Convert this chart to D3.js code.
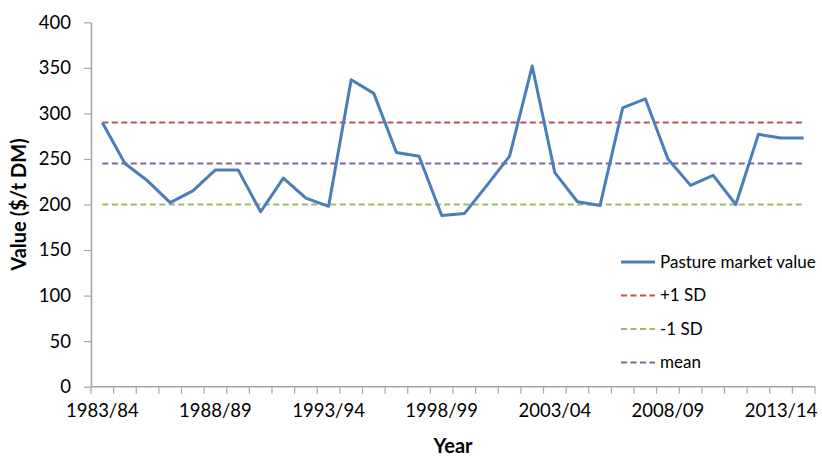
<!DOCTYPE html>
<html>
<head>
<meta charset="utf-8">
<script src="https://cdn.jsdelivr.net/npm/d3@7"></script>
<style>
  body { margin: 0; background: #fff; }
  svg text { font-family: Lato, "Open Sans", sans-serif; fill: #000; }
</style>
</head>
<body>
<div id="wrapper"></div>
<script>
// categories (crop years)
const years = [
  "1983/84", "1984/85", "1985/86", "1986/87", "1987/88", "1988/89", "1989/90", "1990/91",
  "1991/92", "1992/93", "1993/94", "1994/95", "1995/96", "1996/97", "1997/98", "1998/99",
  "1999/00", "2000/01", "2001/02", "2002/03", "2003/04", "2004/05", "2005/06", "2006/07",
  "2007/08", "2008/09", "2009/10", "2010/11", "2011/12", "2012/13", "2013/14", "2014/15"
]
// pasture market value ($/t DM)
const pastureValue = [
  290, 245, 226, 202, 215, 238, 238, 192,
  229, 207, 198, 337, 322, 257, 253, 188,
  190, 221, 253, 352, 235, 203, 199, 306,
  316, 250, 221, 232, 200, 277, 273, 273
]
const plusSD = 290
const minusSD = 200
const meanValue = 245

const yTicks = [0, 50, 100, 150, 200, 250, 300, 350, 400]
const xLabelYears = ["1983/84", "1988/89", "1993/94", "1998/99", "2003/04", "2008/09", "2013/14"]

const seriesNames = ["Pasture market value", "+1 SD", "-1 SD", "mean"]
const seriesColors = ["#4A7EBB", "#C0504D", "#9BBB59", "#8064A2"]

//1_Dimensions
const width = 822
const height = 457
const plot = { left: 91, right: 815, top: 22.3, bottom: 386.7 }

//2_Canvas
const svg = d3.select("#wrapper")
  .append("svg")
  .attr("width", width)
  .attr("height", height)

//3_Scales
const xScale = d3.scaleBand()
  .domain(years)
  .range([plot.left, plot.right])
  .padding(0)
const xCenter = d => xScale(d) + xScale.bandwidth() / 2

const yScale = d3.scaleLinear()
  .domain([0, 400])
  .range([plot.bottom, plot.top])

//4_Axes
const axisColor = "#A6A6A6"

const yAxis = svg.append("g")
  .attr("transform", `translate(${plot.left},0)`)
  .call(d3.axisLeft(yScale).tickValues(yTicks).tickSize(7).tickSizeOuter(0).tickPadding(13))
yAxis.select(".domain").attr("stroke", axisColor).attr("stroke-width", 1.6)
yAxis.selectAll(".tick line").attr("stroke", axisColor).attr("stroke-width", 1.2)
yAxis.selectAll(".tick text")
  .style("font-size", "18.5px")
  .attr("fill", "#000")

const xAxis = svg.append("g")
  .attr("transform", `translate(0,${plot.bottom})`)
xAxis.append("line")
  .attr("x1", plot.left).attr("x2", plot.right)
  .attr("stroke", axisColor).attr("stroke-width", 1.6)
// tick marks between categories
xAxis.selectAll(".xtick")
  .data(years.concat(["end"]))
  .join("line")
  .attr("class", "xtick")
  .attr("x1", (d, i) => i < years.length ? xScale(d) : plot.right)
  .attr("x2", (d, i) => i < years.length ? xScale(d) : plot.right)
  .attr("y1", 0)
  .attr("y2", 7)
  .attr("stroke", axisColor)
  .attr("stroke-width", 1.2)
xAxis.selectAll(".xlabel")
  .data(xLabelYears)
  .join("text")
  .attr("class", "xlabel")
  .attr("x", d => xCenter(d))
  .attr("y", 30)
  .attr("text-anchor", "middle")
  .style("font-size", "18.5px")
  .text(d => d)

// axis titles
svg.append("text")
  .attr("transform", `translate(26,${(plot.top + plot.bottom) / 2}) rotate(-90)`)
  .attr("text-anchor", "middle")
  .style("font-size", "20px")
  .style("font-weight", "bold")
  .text("Value ($/t DM)")

svg.append("text")
  .attr("x", (plot.left + plot.right) / 2)
  .attr("y", 453)
  .attr("text-anchor", "middle")
  .style("font-size", "20px")
  .style("font-weight", "bold")
  .text("Year")

//5_Reference lines
const refLines = [
  { value: plusSD, color: seriesColors[1] },
  { value: minusSD, color: seriesColors[2] },
  { value: meanValue, color: seriesColors[3] },
]
refLines.forEach(r => {
  svg.append("line")
    .attr("x1", xCenter(years[0]))
    .attr("x2", xCenter(years[years.length - 1]))
    .attr("y1", yScale(r.value))
    .attr("y2", yScale(r.value))
    .attr("stroke", r.color)
    .attr("stroke-width", 2.2)
    .attr("stroke-dasharray", "6,3.5")
})

//6_Data line
const lineGenerator = d3.line()
  .x((d, i) => xCenter(years[i]))
  .y(d => yScale(d))
svg.append("path")
  .attr("d", lineGenerator(pastureValue))
  .attr("fill", "none")
  .attr("stroke", seriesColors[0])
  .attr("stroke-width", 3)
  .attr("stroke-linejoin", "round")

//7_Legend
const legend = svg.append("g")
  .attr("transform", "translate(621,262)")
seriesNames.forEach((name, i) => {
  const row = legend.append("g")
    .attr("transform", `translate(0,${i * 33.5})`)
  row.append("line")
    .attr("x1", 0).attr("x2", 34)
    .attr("stroke", seriesColors[i])
    .attr("stroke-width", i === 0 ? 3 : 2.2)
    .attr("stroke-dasharray", i === 0 ? null : "6,3.5")
  row.append("text")
    .attr("x", 39)
    .attr("dy", "0.35em")
    .style("font-size", "17px")
    .text(name)
})
</script>
</body>
</html>
